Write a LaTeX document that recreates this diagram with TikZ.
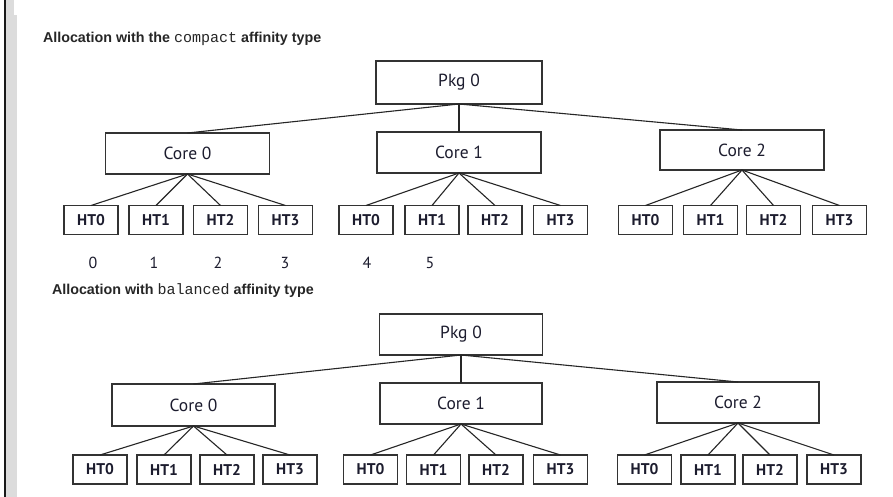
\documentclass[tikz,border=0pt]{standalone}
\usepackage{fontspec}
\newfontfamily\boxfont{PT Sans}
\newfontfamily\titlefont{Liberation Sans}
\newfontfamily\codefont{Liberation Mono}
\definecolor{txt}{HTML}{1C1C2E}
\definecolor{strip}{HTML}{DCDCDC}
\begin{document}
\begin{tikzpicture}[x=1pt,y=-1pt,
  every node/.style={inner sep=0pt,outer sep=0pt},
  bx/.style={draw=black!80,line width=1.2pt,fill=white,text=txt},
  pkgbox/.style={bx,minimum width=164pt,minimum height=42pt,font=\boxfont\fontsize{17.5}{19}\selectfont},
  corebox/.style={bx,minimum width=164pt,minimum height=41pt,font=\boxfont\fontsize{17.5}{19}\selectfont},
  htbox/.style={bx,minimum width=54pt,minimum height=29pt,font=\boxfont\bfseries\fontsize{15.5}{17}\selectfont},
  num/.style={text=txt,font=\boxfont\fontsize{16}{18}\selectfont},
  ttl/.style={anchor=west,text=black!85,font=\titlefont\bfseries\fontsize{14.3}{16}\selectfont},
  link/.style={draw=black!85,line width=1.1pt}]
\useasboundingbox (0,0) rectangle (893,497);
\fill[white] (0,0) rectangle (893,497);
% left strip
\fill[strip] (6,15) rectangle (16.5,497);
\fill[strip] (6,0) rectangle (14,15);
\fill[black!90] (4,0) rectangle (6,497);

% ---------- compact ----------
\node[ttl] (t1) at (43,39) {Allocation with the {\codefont\mdseries\fontsize{15}{16}\selectfont compact} affinity type};
\node[pkgbox,minimum width=166pt,minimum height=43pt] (p) at (459,82.5) {Pkg 0};
\node[corebox] (c0) at (187.5,153.5) {Core 0};
\node[corebox] (c1) at (459,152.5) {Core 1};
\node[corebox,minimum height=40pt] (c2) at (742,150) {Core 2};
\foreach \n/\x in {a0/91,a1/156,a2/220.5,a3/285.5}{\node[htbox] (\n) at (\x,220) {};}
\foreach \n/\x in {b0/366,b1/432,b2/495,b3/560.5}{\node[htbox] (\n) at (\x,220) {};}
\foreach \n/\x in {d0/645.5,d1/710.5,d2/773.5,d3/839.5}{\node[htbox] (\n) at (\x,220) {};}
\foreach \g in {a,b,d}{
  \node at (\g0) [htbox] {HT0};
  \node at (\g1) [htbox] {HT1};
  \node at (\g2) [htbox] {HT2};
  \node at (\g3) [htbox] {HT3};
}
\foreach \c in {c0,c1,c2}{\draw[link] (p.south) -- (\c.north);}
\foreach \i in {0,1,2,3}{
  \draw[link] (c0.south) -- (a\i.north);
  \draw[link] (c1.south) -- (b\i.north);
  \draw[link] (c2.south) -- (d\i.north);
}
\node[num] (n0) at (93,263) {0};
\node[num] (n1) at (154,263) {1};
\node[num] (n2) at (218,263) {2};
\node[num] (n3) at (285,263) {3};
\node[num] (n4) at (367,263) {4};
\node[num] (n5) at (430,263) {5};

% ---------- balanced ----------
\node[ttl] (t2) at (52,291) {Allocation with {\codefont\mdseries\fontsize{15}{16}\selectfont balanced} affinity type};
\node[pkgbox,minimum width=163pt,minimum height=41pt] (q) at (461,334.5) {Pkg 0};
\node[corebox,minimum width=163pt,minimum height=42pt] (e0) at (193.5,405) {Core 0};
\node[corebox,minimum width=162pt] (e1) at (461,403.5) {Core 1};
\node[corebox,minimum width=162pt] (e2) at (738,402.5) {Core 2};
\foreach \n/\x in {f0/100,f1/164,f2/227,f3/290}{\node[htbox] (\n) at (\x,469.5) {};}
\foreach \n/\x in {g0/370.5,g1/433.5,g2/496,g3/560.5}{\node[htbox] (\n) at (\x,469.5) {};}
\foreach \n/\x in {h0/644.5,h1/708,h2/770,h3/834}{\node[htbox] (\n) at (\x,469.5) {};}
\foreach \g in {f,g,h}{
  \node at (\g0) [htbox] {HT0};
  \node at (\g1) [htbox] {HT1};
  \node at (\g2) [htbox] {HT2};
  \node at (\g3) [htbox] {HT3};
}
\foreach \c in {e0,e1,e2}{\draw[link] (q.south) -- (\c.north);}
\foreach \i in {0,1,2,3}{
  \draw[link] (e0.south) -- (f\i.north);
  \draw[link] (e1.south) -- (g\i.north);
  \draw[link] (e2.south) -- (h\i.north);
}
\end{tikzpicture}
\end{document}
